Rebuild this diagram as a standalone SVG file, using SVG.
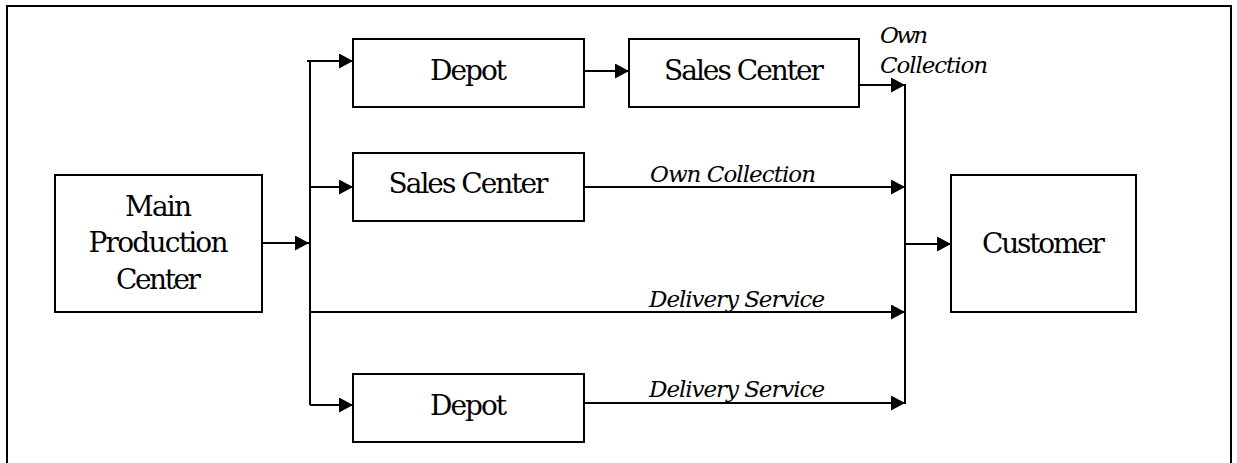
<svg xmlns="http://www.w3.org/2000/svg" width="1237" height="463" viewBox="0 0 1237 463">
  <defs>
    <marker id="arrow" markerUnits="userSpaceOnUse" markerWidth="15" markerHeight="16" refX="14" refY="7.5" orient="auto">
      <path d="M0,0 L14,7.5 L0,15 Z" fill="#000"/>
    </marker>
  </defs>
  <style>
    text { font-family: 'DejaVu Serif', 'Liberation Serif', Times, serif; fill: #000; }
    .frame { fill: none; stroke: #000; stroke-width: 2; }
    .box { fill: #fff; stroke: #000; stroke-width: 2; }
    .label { font-size: 28px; text-anchor: middle; }
    .note { font-size: 23px; font-style: italic; }
    .link { fill: none; stroke: #000; stroke-width: 2; }
    .arr { marker-end: url(#arrow); }
  </style>

  <rect fill="#fff" x="0" y="0" width="1237" height="463"/>
  <!-- outer frame, continuing past the bottom edge -->
  <path class="frame" d="M7,470 L7,6 L1231,6 L1231,470"/>

  <g id="connectors">
    <!-- main production center to distribution trunk -->
    <line class="link arr" x1="262" y1="243" x2="309" y2="243"/>
    <!-- left trunk -->
    <line class="link" x1="310" y1="61" x2="310" y2="405"/>
    <line class="link arr" x1="307" y1="61" x2="353" y2="61"/>
    <line class="link arr" x1="310" y1="187" x2="353" y2="187"/>
    <line class="link arr" x1="310" y1="405" x2="353" y2="405"/>
    <!-- depot to sales center -->
    <line class="link arr" x1="584" y1="71" x2="629" y2="71"/>
    <!-- routes into the right trunk -->
    <line class="link arr" x1="859" y1="85" x2="905" y2="85"/>
    <line class="link arr" x1="584" y1="187" x2="905" y2="187"/>
    <line class="link arr" x1="310" y1="312" x2="905" y2="312"/>
    <line class="link arr" x1="584" y1="403" x2="905" y2="403"/>
    <!-- right trunk -->
    <line class="link" x1="905" y1="84" x2="905" y2="404"/>
    <line class="link arr" x1="905" y1="244" x2="951" y2="244"/>
    <!-- route labels -->
    <text class="note" x="880" y="43" textLength="48">Own</text>
    <text class="note" x="880" y="73" textLength="108">Collection</text>
    <text class="note" x="650" y="182" textLength="166">Own Collection</text>
    <text class="note" x="649" y="307" textLength="176">Delivery Service</text>
    <text class="note" x="649" y="397" textLength="176">Delivery Service</text>
  </g>

  <g id="main-production-center">
    <rect class="box" x="55" y="175" width="207" height="137"/>
    <text class="label" x="158.5" y="216" textLength="67">Main</text>
    <text class="label" x="158.5" y="252" textLength="140">Production</text>
    <text class="label" x="158.5" y="289" textLength="85">Center</text>
  </g>

  <g id="depot-top">
    <rect class="box" x="353" y="39" width="231" height="68"/>
    <text class="label" x="468.5" y="80" textLength="77">Depot</text>
  </g>

  <g id="sales-center-top">
    <rect class="box" x="629" y="39" width="230" height="68"/>
    <text class="label" x="744" y="80" textLength="160">Sales Center</text>
  </g>

  <g id="sales-center-middle">
    <rect class="box" x="353" y="153" width="231" height="68"/>
    <text class="label" x="468.5" y="193" textLength="160">Sales Center</text>
  </g>

  <g id="depot-bottom">
    <rect class="box" x="353" y="374" width="231" height="68"/>
    <text class="label" x="468.5" y="415" textLength="77">Depot</text>
  </g>

  <g id="customer">
    <rect class="box" x="951" y="175" width="185" height="137"/>
    <text class="label" x="1043.5" y="253" textLength="123">Customer</text>
  </g>
</svg>
